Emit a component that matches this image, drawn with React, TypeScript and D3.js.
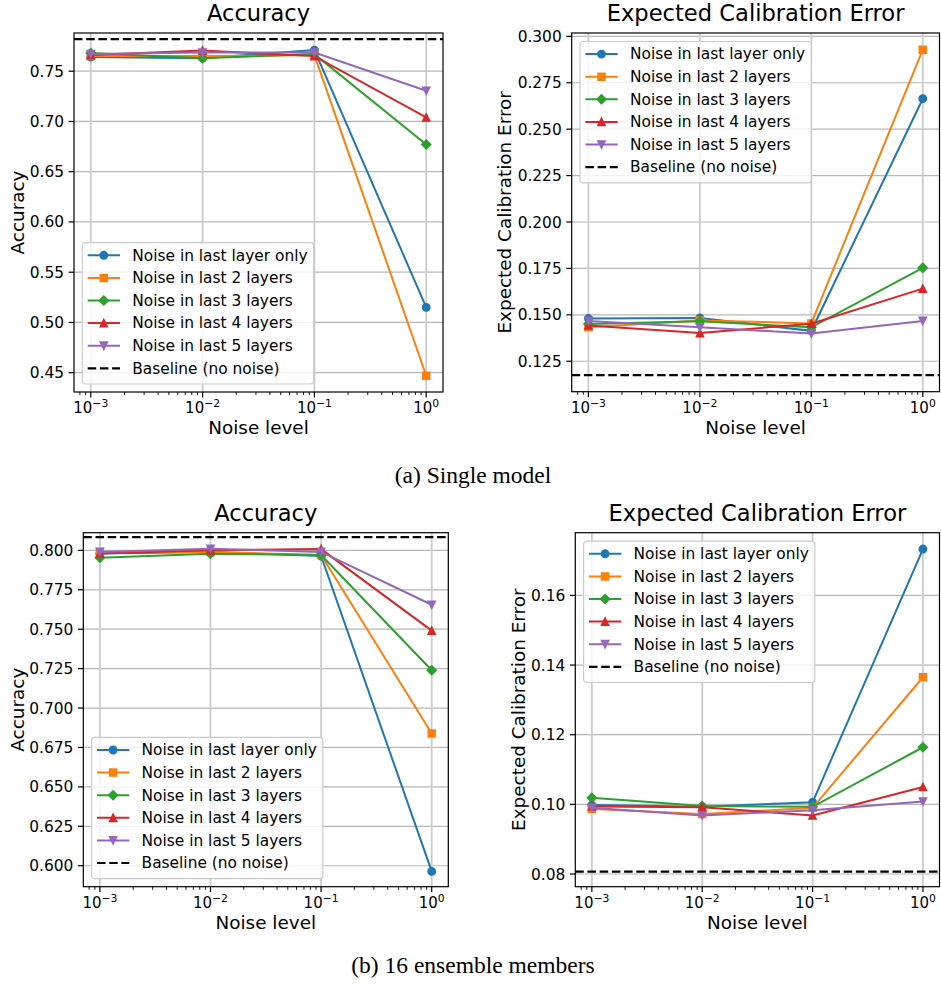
import { useEffect, useRef } from 'react';
import * as d3 from 'd3';

// x values shared by every panel
const noiseLevels = [1e-3, 1e-2, 1e-1, 1];
const xTickExps = [-3, -2, -1, 0];

const seriesLabels = [
  'Noise in last layer only',
  'Noise in last 2 layers',
  'Noise in last 3 layers',
  'Noise in last 4 layers',
  'Noise in last 5 layers',
];
const seriesColors = ['#1f77b4', '#ff7f0e', '#2ca02c', '#d62728', '#9467bd'];
const seriesMarkers = ['o', 's', 'D', '^', 'v'];
const baselineLabel = 'Baseline (no noise)';

// (a) single model - accuracy
const accSingle1 = [0.764, 0.763, 0.771, 0.515];
const accSingle2 = [0.765, 0.765, 0.766, 0.447];
const accSingle3 = [0.768, 0.763, 0.767, 0.677];
const accSingle4 = [0.766, 0.7705, 0.765, 0.704];
const accSingle5 = [0.767, 0.7685, 0.7685, 0.7305];
const accSingleBaseline = 0.782;
const accSingleTicks = [0.45, 0.5, 0.55, 0.6, 0.65, 0.7, 0.75];

// (a) single model - ECE
const eceSingle1 = [0.148, 0.1483, 0.1414, 0.2664];
const eceSingle2 = [0.1433, 0.147, 0.1454, 0.2928];
const eceSingle3 = [0.145, 0.1465, 0.1433, 0.1753];
const eceSingle4 = [0.1443, 0.1402, 0.1452, 0.1641];
const eceSingle5 = [0.1467, 0.1433, 0.1399, 0.1467];
const eceSingleBaseline = 0.1175;
const eceSingleTicks = [0.125, 0.15, 0.175, 0.2, 0.225, 0.25, 0.275, 0.3];

// (b) 16 ensemble members - accuracy
const accEns1 = [0.798, 0.799, 0.7964, 0.5964];
const accEns2 = [0.799, 0.799, 0.797, 0.6839];
const accEns3 = [0.7953, 0.7979, 0.797, 0.724];
const accEns4 = [0.798, 0.8, 0.8008, 0.7491];
const accEns5 = [0.799, 0.801, 0.799, 0.7655];
const accEnsBaseline = 0.8084;
const accEnsTicks = [0.6, 0.625, 0.65, 0.675, 0.7, 0.725, 0.75, 0.775, 0.8];

// (b) 16 ensemble members - ECE
const eceEns1 = [0.0998, 0.0993, 0.1006, 0.1733];
const eceEns2 = [0.0987, 0.0972, 0.099, 0.1365];
const eceEns3 = [0.1019, 0.0995, 0.0993, 0.1164];
const eceEns4 = [0.0994, 0.0992, 0.0968, 0.105];
const eceEns5 = [0.099, 0.0968, 0.0983, 0.1008];
const eceEnsBaseline = 0.0807;
const eceEnsTicks = [0.08, 0.1, 0.12, 0.14, 0.16];

const panels = [
  {
    title: 'Accuracy', ylabel: 'Accuracy', series: [accSingle1, accSingle2, accSingle3, accSingle4, accSingle5],
    baseline: accSingleBaseline, ticks: accSingleTicks, fmt: '.2f', yDomain: [0.4308, 0.788],
    left: 74, right: 443, top: 33, bottom: 392, ylabelX: 23.5, legend: 'lower',
  },
  {
    title: 'Expected Calibration Error', ylabel: 'Expected Calibration Error', series: [eceSingle1, eceSingle2, eceSingle3, eceSingle4, eceSingle5],
    baseline: eceSingleBaseline, ticks: eceSingleTicks, fmt: '.3f', yDomain: [0.1086, 0.3018],
    left: 571.7, right: 939.5, top: 33, bottom: 391.7, ylabelX: 511, legend: 'upper',
  },
  {
    title: 'Accuracy', ylabel: 'Accuracy', series: [accEns1, accEns2, accEns3, accEns4, accEns5],
    baseline: accEnsBaseline, ticks: accEnsTicks, fmt: '.3f', yDomain: [0.5867, 0.8112],
    left: 83.3, right: 448.3, top: 532.7, bottom: 886.7, ylabelX: 23.5, legend: 'lower',
  },
  {
    title: 'Expected Calibration Error', ylabel: 'Expected Calibration Error', series: [eceEns1, eceEns2, eceEns3, eceEns4, eceEns5],
    baseline: eceEnsBaseline, ticks: eceEnsTicks, fmt: '.2f', yDomain: [0.07636, 0.178],
    left: 575.3, right: 939.5, top: 532.7, bottom: 886.7, ylabelX: 525, legend: 'upper',
  },
];

const captions = [
  { text: '(a) Single model', y: 483.3 },
  { text: '(b) 16 ensemble members', y: 972.7 },
];

const FONT = 'DejaVu Sans, sans-serif';

// matplotlib-like marker outlines
function markerPath(m: string) {
  const p = d3.path();
  if (m === 'o') {
    p.arc(0, 0, 3.7, 0, Math.PI * 2);
  } else if (m === 's') {
    p.rect(-3.5, -3.5, 7, 7);
  } else if (m === 'D') {
    const h = 4.5;
    p.moveTo(0, -h); p.lineTo(h, 0); p.lineTo(0, h); p.lineTo(-h, 0); p.closePath();
  } else if (m === '^') {
    const h = 3.6;
    p.moveTo(0, -h); p.lineTo(h, h); p.lineTo(-h, h); p.closePath();
  } else {
    const h = 3.6;
    p.moveTo(0, h); p.lineTo(h, -h); p.lineTo(-h, -h); p.closePath();
  }
  return p.toString();
}

function drawPanel(svg: any, p: any, idx: number) {
  const g = svg.append('g');
  const x = d3.scaleLog().domain([10 ** -3.15, 10 ** 0.15]).range([p.left, p.right]);
  const y = d3.scaleLinear().domain(p.yDomain).range([p.bottom, p.top]);

  const clipId = `clip-${idx}`;
  g.append('clipPath').attr('id', clipId)
    .append('rect').attr('x', p.left).attr('y', p.top)
    .attr('width', p.right - p.left).attr('height', p.bottom - p.top);

  // grid
  g.append('g').selectAll('line').data(p.ticks).enter().append('line')
    .attr('x1', p.left).attr('x2', p.right)
    .attr('y1', (d: number) => y(d)).attr('y2', (d: number) => y(d))
    .attr('stroke', '#b8b8b8').attr('stroke-width', 1.2);
  g.append('g').selectAll('line').data(xTickExps).enter().append('line')
    .attr('y1', p.top).attr('y2', p.bottom)
    .attr('x1', (d: number) => x(10 ** d)).attr('x2', (d: number) => x(10 ** d))
    .attr('stroke', '#cccccc').attr('stroke-width', 1.8);

  const plot = g.append('g').attr('clip-path', `url(#${clipId})`);
  const line = d3.line<number>().x((_d, i) => x(noiseLevels[i])).y((d) => y(d));

  p.series.forEach((vals: number[], si: number) => {
    const s = plot.append('g');
    s.append('path').attr('d', line(vals)).attr('fill', 'none')
      .attr('stroke', seriesColors[si]).attr('stroke-width', 2);
    s.selectAll('path.m').data(vals).enter().append('path').attr('class', 'm')
      .attr('d', markerPath(seriesMarkers[si]))
      .attr('transform', (d: number, i: number) => `translate(${x(noiseLevels[i])},${y(d)})`)
      .attr('fill', seriesColors[si]).attr('stroke', seriesColors[si]).attr('stroke-width', 1.5);
  });

  plot.append('line').attr('x1', p.left).attr('x2', p.right)
    .attr('y1', y(p.baseline)).attr('y2', y(p.baseline))
    .attr('stroke', 'black').attr('stroke-width', 2.2).attr('stroke-dasharray', '8.5,3.7');

  // spines
  g.append('rect').attr('x', p.left).attr('y', p.top)
    .attr('width', p.right - p.left).attr('height', p.bottom - p.top)
    .attr('fill', 'none').attr('stroke', 'black').attr('stroke-width', 1.2);

  // y ticks
  const f = d3.format(p.fmt);
  const yt = g.append('g').selectAll('g').data(p.ticks).enter().append('g')
    .attr('transform', (d: number) => `translate(0,${y(d)})`);
  yt.append('line').attr('x1', p.left - 5.4).attr('x2', p.left).attr('stroke', 'black').attr('stroke-width', 1.2);
  yt.append('text').attr('x', p.left - 10).attr('dy', '0.36em').attr('text-anchor', 'end')
    .attr('font-family', FONT).attr('font-size', 15.4).attr('fill', 'black')
    .text((d: number) => f(d));

  // x minor ticks
  const minors: number[] = [];
  for (let e = -4; e <= 0; e++) {
    for (let k = 2; k <= 9; k++) {
      const v = k * 10 ** e;
      if (v >= x.domain()[0] && v <= x.domain()[1]) minors.push(v);
    }
  }
  g.append('g').selectAll('line').data(minors).enter().append('line')
    .attr('x1', (d: number) => x(d)).attr('x2', (d: number) => x(d))
    .attr('y1', p.bottom).attr('y2', p.bottom + 3.1)
    .attr('stroke', 'black').attr('stroke-width', 0.9);

  // x major ticks with 10^n labels
  const xt = g.append('g').selectAll('g').data(xTickExps).enter().append('g')
    .attr('transform', (d: number) => `translate(${x(10 ** d)},${p.bottom})`);
  xt.append('line').attr('y1', 0).attr('y2', 5.4).attr('stroke', 'black').attr('stroke-width', 1.2);
  const xl = xt.append('text').attr('y', 20.9).attr('text-anchor', 'middle')
    .attr('font-family', FONT).attr('font-size', 15).attr('fill', 'black');
  xl.append('tspan').text('10');
  xl.append('tspan').attr('dy', -5.8).attr('font-size', 10.8)
    .text((d: number) => (d < 0 ? `\u2212${-d}` : `${d}`));

  // axis labels and title
  const cx = (p.left + p.right) / 2;
  const cy = (p.top + p.bottom) / 2;
  g.append('text').attr('x', cx).attr('y', p.bottom + 42.3).attr('text-anchor', 'middle')
    .attr('font-family', FONT).attr('font-size', 18.4).text('Noise level');
  g.append('text').attr('transform', `translate(${p.ylabelX},${cy}) rotate(-90)`)
    .attr('text-anchor', 'middle').attr('font-family', FONT).attr('font-size', 18.4).text(p.ylabel);
  g.append('text').attr('x', cx).attr('y', p.top - 12).attr('text-anchor', 'middle')
    .attr('font-family', FONT).attr('font-size', 22.6).text(p.title);

  // legend
  const entries = seriesLabels.map((l, i) => ({ label: l, color: seriesColors[i], marker: seriesMarkers[i] as string | null, dash: false }));
  entries.push({ label: baselineLabel, color: 'black', marker: null, dash: true });
  const lh = 12.6 + (entries.length - 1) * 22.6 + 15.7;
  const lx = p.left + 8.3;
  const ly = p.legend === 'lower' ? p.bottom - 8 - lh : p.top + 8.5;
  const lg = g.append('g').attr('transform', `translate(${lx},${ly})`);
  const frame = lg.append('rect').attr('height', lh).attr('rx', 3)
    .attr('fill', 'white').attr('fill-opacity', 0.8).attr('stroke', '#cccccc').attr('stroke-width', 1.2);
  let maxW = 0;
  entries.forEach((e, i) => {
    const ey = 12.6 + i * 22.6;
    lg.append('line').attr('x1', 5.4).attr('x2', 37.7).attr('y1', ey).attr('y2', ey)
      .attr('stroke', e.color).attr('stroke-width', e.dash ? 2.2 : 2)
      .attr('stroke-dasharray', e.dash ? '8.5,3.7' : null);
    if (e.marker) {
      lg.append('path').attr('d', markerPath(e.marker)).attr('transform', `translate(21.5,${ey})`)
        .attr('fill', e.color).attr('stroke', e.color).attr('stroke-width', 1.5);
    }
    const t = lg.append('text').attr('x', 50).attr('y', ey).attr('dy', '0.35em')
      .attr('font-family', FONT).attr('font-size', 15.4).text(e.label);
    maxW = Math.max(maxW, (t.node() as SVGTextElement).getComputedTextLength());
  });
  frame.attr('width', 50 + maxW + 6);
}

const App = () => {
  const svgRef = useRef<SVGSVGElement>(null);

  useEffect(() => {
    const svg = d3.select(svgRef.current);
    svg.selectAll('*').remove();
    svg.append('rect').attr('width', 941).attr('height', 984).attr('fill', 'white');
    panels.forEach((p, i) => drawPanel(svg, p, i));
    svg.selectAll('text.cap').data(captions).enter().append('text').attr('class', 'cap')
      .attr('x', 473).attr('y', (d) => d.y).attr('text-anchor', 'middle')
      .attr('font-family', 'Liberation Serif, Times New Roman, serif').attr('font-size', 23.5)
      .text((d) => d.text);
  }, []);

  return (
    <svg ref={svgRef} width={941} height={984} style={{ position: 'absolute', left: 0, top: 0 }} />
  );
};

export default App;
